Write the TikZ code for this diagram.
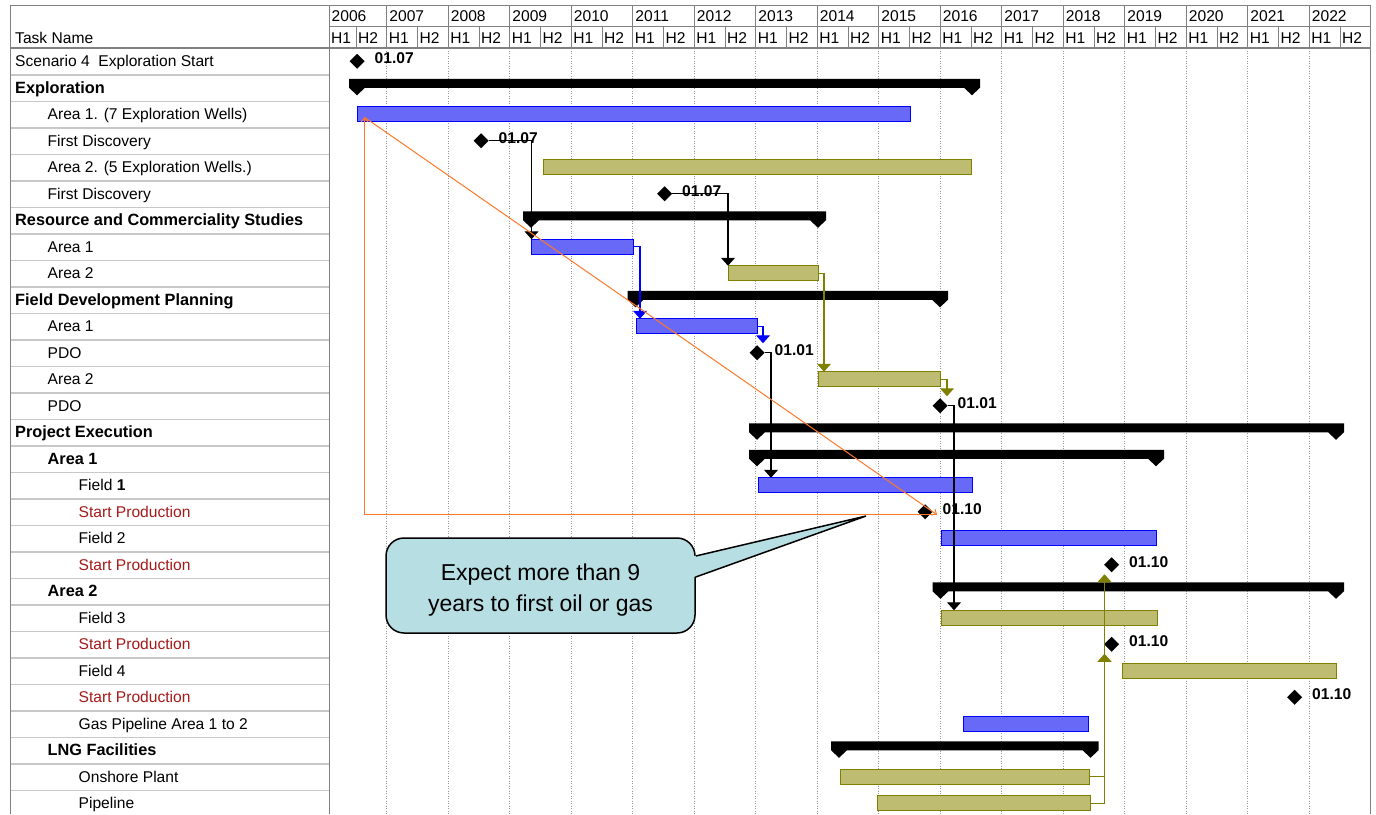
\documentclass[tikz,border=0pt]{standalone}
\usepackage{fontspec}
\setmainfont{Liberation Sans}
\usetikzlibrary{positioning,shapes.geometric,arrows.meta}

\definecolor{barblue}{RGB}{0,0,255}
\definecolor{barbluefill}{RGB}{105,105,248}
\definecolor{barolive}{RGB}{128,128,0}
\definecolor{barolivefill}{RGB}{190,188,112}
\definecolor{prodred}{RGB}{165,25,25}
\definecolor{orangeln}{RGB}{255,120,40}
\definecolor{notecyan}{RGB}{183,222,226}
\definecolor{gridgray}{RGB}{150,150,150}
\definecolor{rowgray}{RGB}{200,200,200}
\definecolor{hdrgray}{RGB}{128,128,128}

% summary bar: start, end, row centre
\newcommand{\sumbar}[3]{%
  \fill ({#1-8},{#3-9.5}) -- ({#2+8},{#3-9.5}) -- ({#2+8},{#3-0.5}) -- (#2,{#3+7})
    -- ({#2-8},{#3-0.5}) -- ({#1+8},{#3-0.5}) -- (#1,{#3+7}) -- ({#1-8},{#3-0.5}) -- cycle;}

\tikzset{
  task/.style={anchor=base west, inner sep=0, font=\fontsize{15.6}{18}\selectfont},
  sumtask/.style={task, font=\fontsize{16.3}{18}\selectfont\bfseries},
  prodtask/.style={task, text=prodred},
  hdr/.style={anchor=base west, inner sep=0, font=\fontsize{15.6}{18}\selectfont},
  hdrline/.style={draw=hdrgray, line width=1pt},
  rowline/.style={draw=rowgray, line width=1.3pt},
  gridline/.style={draw=gridgray, line width=0.8pt, dash pattern=on 1pt off 1.5pt},
  bluebar/.style={draw=barblue, fill=barbluefill, line width=1pt, minimum height=15, inner sep=0, outer sep=0, anchor=west},
  olivebar/.style={bluebar, draw=barolive, fill=barolivefill},
  mile/.style={diamond, fill=black, minimum size=15, inner sep=0, outer sep=0},
  date/.style={inner sep=0, yshift=3pt, font=\fontsize{15.6}{18}\selectfont\bfseries},
  link/.style={line width=1.2pt, -{Triangle[width=14pt,length=8pt]}},
  bluelink/.style={link, draw=barblue},
  olivelink/.style={link, draw=barolive},
  orangeline/.style={draw=orangeln, line width=1pt},
  bubble/.style={draw, line width=1.5pt, fill=notecyan, rounded corners=18pt, minimum width=309, minimum height=95, inner sep=0},
  notetext/.style={align=center, inner sep=0, font=\fontsize{23}{31}\selectfont}
}

\begin{document}
\begin{tikzpicture}[x=1pt, y=-1pt]
\useasboundingbox (0,0) rectangle (1376,814);

% table and timescale
\foreach \k in {1,...,16} {
  \draw[hdrline] ({325.2+61.5*\k},5) -- ({325.2+61.5*\k},48);
  \draw[gridline] ({325.2+61.5*\k},48) -- ({325.2+61.5*\k},814);
}
\foreach \k in {0,...,16}
  \draw[hdrline] ({356+61.5*\k},26.5) -- ({356+61.5*\k},48);
\foreach \k in {1,...,28}
  \draw[rowline] (10,{48.5+26.5*\k}) -- (329,{48.5+26.5*\k});
\draw[hdrline] (10,5) -- (1370.7,5);
\draw[hdrline] (329,26.5) -- (1370.7,26.5);
\draw[hdrline, line width=1.6pt] (10,48) -- (1370.7,48);
\draw[hdrline] (10,5) -- (10,814);
\draw[hdrline] (329,5) -- (329,814);
\draw[hdrline] (1370.7,5) -- (1370.7,814);

\node[hdr] (head) at (15,43.3) {Task Name};
\foreach \yr [count=\k from 0] in {2006,...,2022}
  \node[hdr] (y\yr) at ({max(329,325.2+61.5*\k)+2.5},21) {\yr};
\foreach \k in {0,...,16} {
  \node[hdr] (ha\k) at ({max(329,325.2+61.5*\k)+2},43.3) {H1};
  \node[hdr] (hb\k) at ({356+61.5*\k+2},43.3) {H2};
}

% task names
\node[task] (t1) at (15,66.75) {Scenario 4~ Exploration Start};
\node[sumtask] (t2) at (15,93.25) {Exploration};
\node[task] (t3) at (47.5,119.75) {Area 1. (7 Exploration Wells)};
\node[task] (t4) at (47.5,146.25) {First Discovery};
\node[task] (t5) at (47.5,172.75) {Area 2. (5 Exploration Wells.)};
\node[task] (t6) at (47.5,199.25) {First Discovery};
\node[sumtask] (t7) at (15,225.75) {Resource and Commerciality Studies};
\node[task] (t8) at (47.5,252.25) {Area 1};
\node[task] (t9) at (47.5,278.75) {Area 2};
\node[sumtask] (t10) at (15,305.25) {Field Development Planning};
\node[task] (t11) at (47.5,331.75) {Area 1};
\node[task] (t12) at (47.5,358.25) {PDO};
\node[task] (t13) at (47.5,384.75) {Area 2};
\node[task] (t14) at (47.5,411.25) {PDO};
\node[sumtask] (t15) at (15,437.75) {Project Execution};
\node[sumtask] (t16) at (47.5,464.25) {Area 1};
\node[task] (t17) at (78.5,490.75) {Field {\bfseries 1}};
\node[prodtask] (t18) at (78.5,517.25) {Start Production};
\node[task] (t19) at (78.5,543.75) {Field 2};
\node[prodtask] (t20) at (78.5,570.25) {Start Production};
\node[sumtask] (t21) at (47.5,596.75) {Area 2};
\node[task] (t22) at (78.5,623.25) {Field 3};
\node[prodtask] (t23) at (78.5,649.75) {Start Production};
\node[task] (t24) at (78.5,676.25) {Field 4};
\node[prodtask] (t25) at (78.5,702.75) {Start Production};
\node[task] (t26) at (78.5,729.25) {Gas Pipeline Area 1 to 2};
\node[sumtask] (t27) at (47.5,755.75) {LNG Facilities};
\node[task] (t28) at (78.5,782.25) {Onshore Plant};
\node[task] (t29) at (78.5,808.75) {Pipeline};

% bars
\node[bluebar, minimum width=552.5] (r3) at (357.5,114.25) {};
\node[olivebar, minimum width=428.5] (r5) at (543,167.25) {};
\node[bluebar, minimum width=101.5] (r8) at (531.5,246.75) {};
\node[olivebar, minimum width=90] (r9) at (728,273.25) {};
\node[bluebar, minimum width=121] (r11) at (636,326.25) {};
\node[olivebar, minimum width=122] (r13) at (818,379.25) {};
\node[bluebar, minimum width=214] (r17) at (758,485.25) {};
\node[bluebar, minimum width=215] (r19) at (941,538.25) {};
\node[olivebar, minimum width=216] (r22) at (941,617.75) {};
\node[olivebar, minimum width=213.5] (r24) at (1122.5,670.75) {};
\node[bluebar, minimum width=125] (r26) at (963,723.75) {};
\node[olivebar, minimum width=249] (r28) at (840,776.75) {};
\node[olivebar, minimum width=213] (r29) at (877,803.25) {};

% summary bars
\sumbar{357}{972}{88.25}
\sumbar{531}{818}{220.75}
\sumbar{635.5}{940}{300.25}
\sumbar{757}{1336}{432.75}
\sumbar{757}{1156}{459.25}
\sumbar{940.5}{1336}{591.75}
\sumbar{839}{1090.5}{750.75}

% milestones
\node[mile] (m1) at (357,61.25) {};
\node[mile] (m4) at (481,140.75) {};
\node[mile] (m6) at (664.5,193.75) {};
\node[mile] (m12) at (757,352.75) {};
\node[mile] (m14) at (940,405.75) {};
\node[mile] (m18) at (925,511.75) {};
\node[mile] (m20) at (1111.5,564.75) {};
\node[mile] (m23) at (1111.5,644.25) {};
\node[mile] (m25) at (1294.5,697.25) {};

% links
\draw[link] (m4.east) -| (r8.north west);
\draw[link] (m6.east) -| (r9.north west);
\draw[bluelink] (r8.east) -| ([xshift=4pt]r11.north west);
\draw[bluelink] (r11.east) -| ([xshift=6pt,yshift=2pt]m12.north);
\draw[olivelink] (r9.east) -| ([xshift=6pt]r13.north west);
\draw[olivelink] (r13.east) -| ([xshift=7pt,yshift=2pt]m14.north);
\draw[link] (m12.east) -| ([xshift=13pt]r17.north west);
\draw[link] (m14.east) -| ([xshift=13pt]r22.north west);
\draw[olivelink] (r28.east) -| ([xshift=-7pt,yshift=-2pt]m23.south);
\draw[olivelink] (r29.east) -| ([xshift=-7pt,yshift=-2pt]m20.south);

% dates
\node[date, right=10pt of m1] (d1) {01.07};
\node[date, right=10pt of m4] (d4) {01.07};
\node[date, right=10pt of m6] (d6) {01.07};
\node[date, right=10pt of m12] (d12) {01.01};
\node[date, right=10pt of m14] (d14) {01.01};
\node[date, right=10pt of m18] (d18) {01.10};
\node[date, right=10pt of m20] (d20) {01.10};
\node[date, right=10pt of m23] (d23) {01.10};
\node[date, right=10pt of m25] (d25) {01.10};

% time to first oil
\coordinate (o1) at ([xshift=7pt,yshift=-3pt]r3.west);
\coordinate (o2) at ([xshift=4.5pt,yshift=-3pt]m18.east);
\draw[orangeline, -{Straight Barb[length=4pt,width=7pt]}] (o1) -- (o2);
\draw[orangeline, {Straight Barb[length=4pt,width=7pt]}-] (o1) |- (o2);

% callout
\node[bubble] (note) at (540.5,585.5) {};
\coordinate (tip) at (866,516);
\fill[notecyan] ([xshift=-2pt,yshift=29.5pt]note.east) -- (tip) -- ([xshift=-2pt,yshift=8.5pt]note.east) -- cycle;
\draw[line width=1.5pt] ([yshift=29.5pt]note.east) -- (tip) -- ([yshift=8.5pt]note.east);
\node[notetext] (msg) at ([yshift=-5pt]note.center) {Expect more than 9\\years to first oil or gas};

\end{tikzpicture}
\end{document}
